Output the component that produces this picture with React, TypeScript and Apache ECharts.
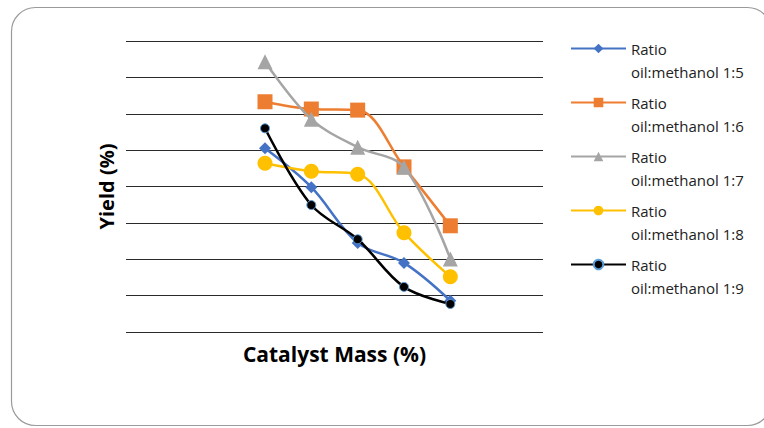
import React, { useEffect, useRef } from "react";
import * as echarts from "echarts";

// Catalyst mass (%) and yield (%) per oil:methanol ratio
const catalystMass = [1.5, 2, 2.5, 3, 3.5];
const ratio15 = [50.5, 39.8, 24.5, 19.0, 8.6];
const ratio16 = [63.3, 61.3, 61.0, 45.4, 29.2];
const ratio17 = [74.3, 58.5, 50.8, 45.3, 20.1];
const ratio18 = [46.4, 44.2, 43.4, 27.3, 15.2];
const ratio19 = [56.0, 34.9, 25.5, 12.4, 7.7];

const seriesNames = [
  "Ratio oil:methanol 1:5",
  "Ratio oil:methanol 1:6",
  "Ratio oil:methanol 1:7",
  "Ratio oil:methanol 1:8",
  "Ratio oil:methanol 1:9",
];

const pair = (ys: number[]) => ys.map((y, i) => [catalystMass[i], y]);

export default function App() {
  const ref = useRef<HTMLDivElement>(null);

  useEffect(() => {
    if (!ref.current) return;
    const chart = echarts.init(ref.current, undefined, { renderer: "svg" });
    const font = "'Open Sans', 'Liberation Sans', sans-serif";

    const mk = (
      idx: number,
      data: number[],
      color: string,
      symbol: string,
      symbolSize: number | number[],
      itemStyle: any = {}
    ) => ({
      name: seriesNames[idx],
      type: "line",
      data: pair(data),
      smooth: 0.35,
      symbol,
      symbolSize,
      lineStyle: { color, width: 2.5 },
      itemStyle: { color, ...itemStyle },
      z: 2 + idx,
    });

    chart.setOption({
      animation: false,
      backgroundColor: "#fff",
      graphic: [
        {
          type: "rect",
          shape: { x: 11.5, y: 7.5, width: 760, height: 418, r: 24 },
          style: { fill: "none", stroke: "#9a9a9a", lineWidth: 1.2 },
          silent: true,
        },
      ],
      grid: { left: 126, right: 221, top: 41, bottom: 96, containLabel: false },
      xAxis: {
        type: "value",
        min: 0,
        max: 4.5,
        interval: 0.5,
        name: "Catalyst Mass (%)",
        nameLocation: "middle",
        nameGap: 11,
        nameTextStyle: { fontFamily: font, fontWeight: "bold", fontSize: 21, color: "#000" },
        axisLine: { show: false },
        axisTick: { show: false },
        axisLabel: { show: false },
        splitLine: { show: false },
      },
      yAxis: {
        type: "value",
        min: 0,
        max: 80,
        interval: 10,
        name: "Yield (%)",
        nameLocation: "middle",
        nameGap: 10,
        nameTextStyle: { fontFamily: font, fontWeight: "bold", fontSize: 20, color: "#000" },
        axisLine: { show: false },
        axisTick: { show: false },
        axisLabel: { show: false },
        splitLine: { show: true, lineStyle: { color: "#2a2a2a", width: 1.2 } },
      },
      legend: {
        orient: "vertical",
        left: 565,
        top: 9,
        itemWidth: 55,
        itemHeight: 12,
        itemGap: -15,
        data: seriesNames,
        formatter: (name: string) => {
          const rest = name.replace("Ratio ", "");
          return "\nRatio\n" + rest;
        },
        textStyle: { fontFamily: font, fontSize: 15, color: "#222", lineHeight: 23 },
      },
      series: [
        mk(0, ratio15, "#4472C4", "diamond", 12),
        mk(1, ratio16, "#ED7D31", "rect", 15),
        mk(2, ratio17, "#A5A5A5", "triangle", 15),
        mk(3, ratio18, "#FFC000", "circle", 15),
        mk(4, ratio19, "#000000", "circle", 9, { borderColor: "#5B9BD5", borderWidth: 1 }),
      ],
    });

    return () => chart.dispose();
  }, []);

  return (
    <div
      ref={ref}
      style={{ position: "fixed", left: 0, top: 0, width: 764, height: 428 }}
    />
  );
}
